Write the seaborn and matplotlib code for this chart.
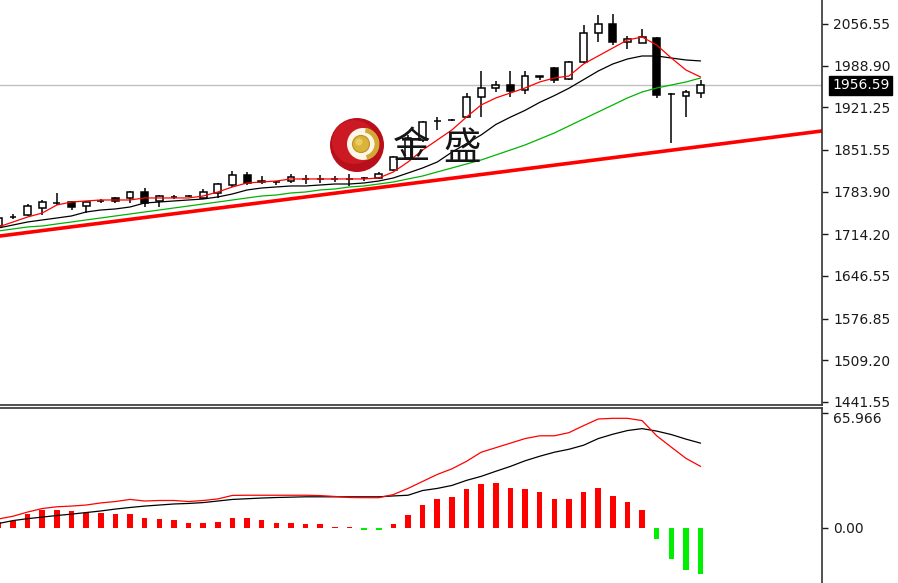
import numpy as np
import pandas as pd
import matplotlib
matplotlib.use("Agg")
import matplotlib.pyplot as plt
import matplotlib.transforms as mtransforms
import seaborn as sns
from matplotlib.patches import Circle, Arc

sns.set_style("white")
plt.rcParams['font.family'] = ['DejaVu Sans']

# ---------------- data ----------------
opens = [1727.9, 1742.5, 1745.8, 1757.2, 1765.3, 1766.9, 1760.4, 1768.5, 1773.4, 1773.4,
         1783.2, 1768.5, 1775.1, 1776.7, 1773.4, 1781.6, 1794.6, 1810.9, 1800.5, 1799.8,
         1801.1, 1804.4, 1805.0, 1804.4, 1805.0, 1806.0, 1806.0, 1819.0, 1838.5, 1867.8,
         1898.7, 1900.4, 1905.2, 1937.8, 1952.4, 1957.3, 1949.2, 1970.3, 1985.0, 1967.1,
         1994.7, 2041.9, 2056.55, 2027.3, 2025.6, 2033.8, 1942.7, 1939.4, 1944.3]
highs = [1744.2, 1747.4, 1763.7, 1770.2, 1781.6, 1768.5, 1768.5, 1771.8, 1775.1, 1784.8,
         1789.7, 1778.3, 1778.3, 1778.3, 1788.1, 1797.8, 1817.4, 1815.8, 1809.2, 1800.5,
         1812.5, 1810.9, 1810.9, 1809.2, 1812.5, 1807.0, 1815.8, 1841.8, 1876.0, 1898.7,
         1905.2, 1902.0, 1944.3, 1980.1, 1963.8, 1980.1, 1980.1, 1972.5, 1986.6, 1996.4,
         2054.9, 2071.2, 2072.8, 2037.0, 2048.4, 2035.4, 1944.3, 1949.2, 1965.4]
lows = [1721.4, 1739.3, 1744.2, 1745.8, 1762.0, 1753.9, 1749.0, 1765.3, 1765.3, 1765.3,
        1758.8, 1758.8, 1771.8, 1775.1, 1771.8, 1773.4, 1791.3, 1794.6, 1796.2, 1794.6,
        1797.8, 1796.2, 1797.8, 1799.5, 1793.0, 1801.1, 1804.4, 1817.4, 1835.3, 1864.6,
        1884.1, 1899.0, 1903.6, 1905.2, 1945.9, 1937.8, 1942.7, 1965.4, 1960.6, 1965.4,
        1993.1, 2027.3, 2022.4, 2015.9, 2025.0, 1936.2, 1862.9, 1905.2, 1936.2]
closes = [1740.9, 1743.0, 1760.4, 1766.9, 1765.8, 1758.8, 1766.9, 1769.0, 1768.5, 1783.2,
          1765.3, 1776.7, 1775.6, 1777.0, 1783.2, 1796.2, 1810.9, 1797.8, 1800.0, 1799.5,
          1807.6, 1805.0, 1804.4, 1805.0, 1804.4, 1806.5, 1812.5, 1840.1, 1871.0, 1897.1,
          1899.2, 1900.0, 1937.8, 1952.4, 1957.3, 1947.6, 1972.0, 1972.0, 1965.4, 1994.7,
          2041.9, 2056.55, 2027.3, 2032.2, 2035.4, 1941.1, 1942.2, 1945.9, 1956.59]

ma_fast = [1726.3, 1734.4, 1742.5, 1749.0, 1762.1, 1766.9, 1768.6, 1770.2, 1770.2, 1770.2,
           1773.5, 1773.5, 1773.5, 1773.5, 1776.7, 1783.2, 1791.4, 1797.9, 1799.5, 1801.1,
           1804.4, 1804.4, 1804.4, 1804.4, 1804.4, 1804.4, 1806.0, 1815.8, 1832.0, 1851.5,
           1867.8, 1884.1, 1905.2, 1924.8, 1936.2, 1944.3, 1952.4, 1962.2, 1968.7, 1971.9,
           1991.5, 2004.5, 2017.5, 2030.5, 2035.4, 2022.4, 2001.2, 1981.7, 1970.3]
ma_mid = [1724.6, 1729.5, 1734.4, 1737.7, 1740.9, 1744.2, 1750.7, 1753.9, 1755.6, 1758.8,
          1765.3, 1766.9, 1768.6, 1770.2, 1771.8, 1775.1, 1780.0, 1786.5, 1789.7, 1791.4,
          1793.0, 1793.0, 1794.6, 1796.2, 1796.2, 1797.9, 1801.1, 1806.0, 1814.1, 1822.3,
          1832.0, 1848.0, 1862.0, 1876.0, 1893.0, 1905.0, 1916.0, 1929.0, 1940.0, 1952.0,
          1966.0, 1980.0, 1991.5, 1999.6, 2004.5, 2004.5, 2001.2, 1998.0, 1996.4]
ma_slow = [1719.8, 1723.0, 1726.3, 1727.9, 1731.2, 1734.4, 1737.7, 1740.9, 1744.2, 1747.4,
           1750.7, 1753.9, 1757.2, 1760.4, 1763.7, 1766.9, 1770.2, 1773.5, 1776.7, 1778.3,
           1781.6, 1783.2, 1786.5, 1788.1, 1791.4, 1793.0, 1796.2, 1799.5, 1804.4, 1809.2,
           1815.8, 1822.3, 1828.8, 1835.3, 1843.4, 1851.5, 1859.7, 1869.4, 1879.2, 1890.6,
           1902.0, 1913.4, 1924.8, 1936.2, 1945.9, 1952.4, 1957.3, 1962.2, 1968.7]

trend_x = [0.11, 56.3]
trend_y = [1711.6, 1882.5]

price_ticks = [2056.55, 1988.90, 1921.25, 1851.55, 1783.90, 1714.20, 1646.55, 1576.85, 1509.20, 1441.55]
last_price = 1956.59

macd_hist = [3.2, 3.8, 8.1, 10.1, 10.1, 9.4, 8.6, 8.8, 8.1, 8.1,
             5.9, 5.2, 4.4, 2.9, 2.9, 3.6, 5.9, 5.9, 4.4, 2.9,
             2.9, 2.3, 2.3, 0.7, 0.3, -1.0, -1.0, 2.3, 7.5, 13.0,
             16.8, 17.6, 22.0, 24.9, 25.6, 22.8, 22.0, 20.5, 16.3, 16.3,
             20.5, 22.8, 18.2, 14.7, 10.1, -6.3, -17.5, -24.0, -26.1]
macd_red = [5.1, 6.7, 9.1, 11.1, 12.1, 12.5, 13.1, 14.3, 15.1, 16.3,
            15.4, 15.7, 15.7, 15.1, 15.7, 16.6, 18.6, 18.7, 18.7, 18.7,
            18.7, 18.7, 18.5, 18.0, 17.4, 17.3, 17.3, 19.1, 22.6, 26.6,
            30.6, 33.8, 38.1, 43.3, 45.9, 48.5, 51.1, 52.7, 52.7, 54.5,
            58.5, 62.3, 62.7, 62.7, 61.4, 52.7, 46.2, 39.8, 35.2]
macd_black = [2.5, 4.2, 5.3, 6.2, 7.1, 7.9, 8.8, 9.7, 10.8, 11.7,
              12.5, 13.1, 13.7, 14.0, 14.5, 15.4, 16.3, 16.7, 17.1, 17.4,
              17.6, 17.8, 17.8, 17.8, 17.8, 17.8, 17.8, 18.3, 18.7, 21.4,
              22.6, 24.3, 27.2, 29.5, 32.4, 35.2, 38.4, 41.0, 43.3, 45.0,
              47.3, 51.1, 53.6, 55.7, 56.8, 55.4, 53.4, 50.8, 48.5]
macd_ticks = [65.966, 0.0]
macd_ticklabels = ["65.966", "0.00"]

# ---------------- figure ----------------
W, H = 898, 583
fig = plt.figure(figsize=(W / 100, H / 100), dpi=100)
fig.patch.set_facecolor("white")

ax = fig.add_axes([0, 178 / H, 822 / W, 405 / H])
ax2 = fig.add_axes([0, 0, 822 / W, 175 / H], sharex=ax)

idx = np.arange(len(opens))
o = np.array(opens); c = np.array(closes)
hi = np.array(highs); lo = np.array(lows)

# trend line & price line
ax.axhline(last_price, color="#c0c0c0", lw=1, zorder=1)
sns.lineplot(x=trend_x, y=trend_y, ax=ax, color="#ff0000", lw=2.6, zorder=2,
             estimator=None, sort=False)

# candles
ax.vlines(idx, lo, hi, color="black", lw=1.1, zorder=3)
bottoms = np.minimum(o, c)
heights = np.maximum(np.abs(c - o), 0.3)
body_col = ["white" if cc >= oo else "black" for oo, cc in zip(o, c)]
ax.bar(idx, heights, bottom=bottoms, width=0.47, color=body_col,
       edgecolor="black", linewidth=1.1, zorder=4)

# moving averages
sns.lineplot(x=idx, y=ma_slow, ax=ax, color="#00b400", lw=0.9, zorder=5, estimator=None, sort=False)
sns.lineplot(x=idx, y=ma_mid, ax=ax, color="black", lw=0.9, zorder=5, estimator=None, sort=False)
sns.lineplot(x=idx, y=ma_fast, ax=ax, color="#ff0000", lw=0.9, zorder=6, estimator=None, sort=False)

ax.set_xlim(0.11, 56.3)
ax.set_ylim(1436.6, 2095.6)
ax.set_yticks(price_ticks)
ax.set_yticklabels([f"{v:.2f}" for v in price_ticks])
ax.yaxis.tick_right()
ax.tick_params(axis="y", right=True, left=False, length=4, width=1, pad=4,
               labelsize=10, colors="#1a1a1a")
ax.tick_params(axis="x", bottom=False, labelbottom=False)
for s in ["left", "top"]:
    ax.spines[s].set_visible(False)
for s in ["right", "bottom"]:
    ax.spines[s].set_color("#333333")
    ax.spines[s].set_linewidth(1.2)
ax.set_xlabel(""); ax.set_ylabel("")

# last price tag
ax.text(1.0 + 10 / 822, last_price, f"{last_price:.2f}", transform=ax.get_yaxis_transform(),
        ha="left", va="center", color="white", fontsize=10, clip_on=False,
        bbox=dict(boxstyle="square,pad=0.2", fc="black", ec="black"), zorder=10)

# ---------------- MACD panel ----------------
hist = np.array(macd_hist)
bar_col = ["#ff0000" if v >= 0 else "#00ee00" for v in hist]
ax2.bar(idx, hist, width=0.38, color=bar_col, linewidth=0, zorder=2)
sns.lineplot(x=idx, y=macd_black, ax=ax2, color="black", lw=0.9, zorder=3, estimator=None, sort=False)
sns.lineplot(x=idx, y=macd_red, ax=ax2, color="#ff0000", lw=0.9, zorder=4, estimator=None, sort=False)
ax2.set_ylim(-31.5, 68.6)
ax2.set_yticks(macd_ticks)
ax2.set_yticklabels(macd_ticklabels)
ax2.yaxis.tick_right()
ax2.tick_params(axis="y", right=True, left=False, length=4, width=1, pad=4,
                labelsize=10, colors="#1a1a1a")
ax2.tick_params(axis="x", bottom=False, labelbottom=False)
for s in ["left", "bottom"]:
    ax2.spines[s].set_visible(False)
for s in ["right", "top"]:
    ax2.spines[s].set_color("#333333")
    ax2.spines[s].set_linewidth(1.2)
ax2.set_xlabel(""); ax2.set_ylabel("")

# shift the top MACD label a little below its tick, as in the terminal
shift = mtransforms.ScaledTranslation(0, -5 / 100, fig.dpi_scale_trans)
for lab in ax2.get_yticklabels():
    if lab.get_text() == "65.966":
        lab.set_transform(lab.get_transform() + shift)

# ---------------- watermark logo ----------------
lax = fig.add_axes([329 / W, 1 - 173 / H, 56 / W, 56 / H])
lax.set_xlim(0, 56); lax.set_ylim(0, 56)
lax.set_aspect("equal"); lax.axis("off")
lax.patch.set_alpha(0)
lax.add_patch(Circle((28, 28), 27, fc="#b80f1a", ec="none"))
lax.add_patch(Circle((25, 31), 22, fc="#d8222c", ec="none", alpha=0.6))
lax.add_patch(Circle((34, 29), 16, fc="#fbf6e8", ec="none"))
lax.add_patch(Arc((34, 29), 28, 28, theta1=-75, theta2=80, lw=3.5, color="#d2a932"))
lax.add_patch(Circle((32, 29), 8.5, fc="#d9b43a", ec="#c09020", lw=0.8))
lax.add_patch(Circle((30, 31), 3.5, fc="#f0d870", ec="none", alpha=0.7))

fig.text(412 / W, 1 - 148 / H, "金", fontsize=27, family=["Noto Sans CJK SC", "DejaVu Sans"],
         ha="center", va="center", color="#151515")
fig.text(462 / W, 1 - 148 / H, "盛", fontsize=27, family=["Noto Sans CJK SC", "DejaVu Sans"],
         ha="center", va="center", color="#151515")

fig.savefig("out.png", dpi=100)
